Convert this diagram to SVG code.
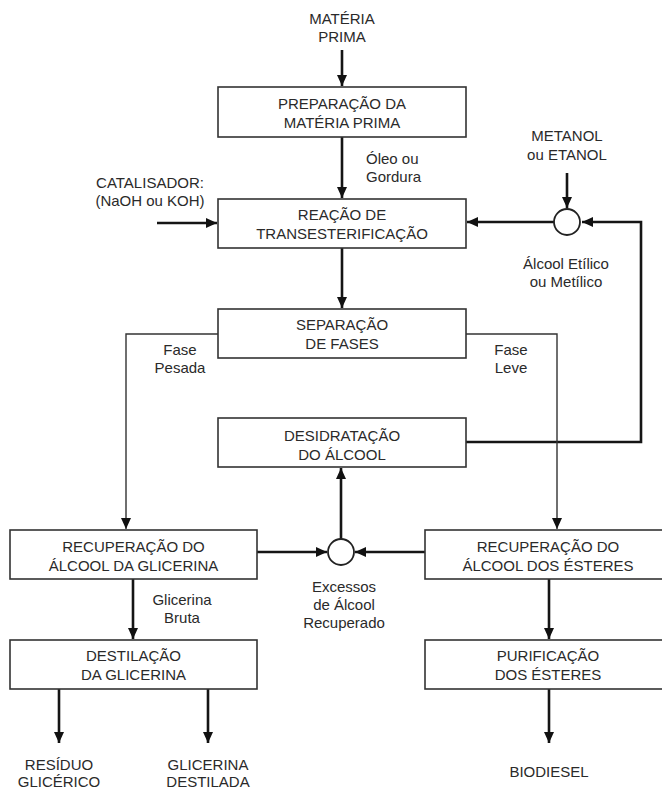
<svg xmlns="http://www.w3.org/2000/svg" width="662" height="790" viewBox="0 0 662 790">
<style>
text{font-family:"Liberation Sans",Arial,sans-serif;font-size:15px;fill:#2a2a2a;text-anchor:middle}
.box{fill:#fff;stroke:#333;stroke-width:1.6}
.thick{fill:none;stroke:#151515;stroke-width:2.6}
.thin{fill:none;stroke:#333;stroke-width:1.4}
.circ{fill:#fff;stroke:#222;stroke-width:1.8}
.st{text-anchor:start}
</style>
<defs>
<marker id="ah" markerUnits="userSpaceOnUse" markerWidth="11" markerHeight="10" refX="11" refY="5" orient="auto" viewBox="0 0 11 10">
<path d="M0,0 L11,5 L0,10 z" fill="#111"/>
</marker>
</defs>
<rect width="662" height="790" fill="#fff"/>
<g id="connectors">
<path class="thick" d="M342,50 V86" marker-end="url(#ah)"/>
<path class="thick" d="M342,137 V198" marker-end="url(#ah)"/>
<path class="thick" d="M157,223 H217" marker-end="url(#ah)"/>
<path class="thick" d="M567,173 V208" marker-end="url(#ah)"/>
<path class="thick" d="M554,222 H467" marker-end="url(#ah)"/>
<path class="thick" d="M466,442 H641 V222 H582" marker-end="url(#ah)"/>
<path class="thick" d="M342,248 V308" marker-end="url(#ah)"/>
<path class="thin" d="M218,334 H126 V529" marker-end="url(#ah)"/>
<path class="thin" d="M466,334 H557 V529" marker-end="url(#ah)"/>
<path class="thick" d="M341,539 V468" marker-end="url(#ah)"/>
<path class="thick" d="M257,552 H327" marker-end="url(#ah)"/>
<path class="thick" d="M425,552 H355" marker-end="url(#ah)"/>
<path class="thick" d="M133,579 V639" marker-end="url(#ah)"/>
<path class="thick" d="M549,579 V639" marker-end="url(#ah)"/>
<path class="thick" d="M59,689 V743" marker-end="url(#ah)"/>
<path class="thick" d="M208,689 V743" marker-end="url(#ah)"/>
<path class="thick" d="M549,689 V743" marker-end="url(#ah)"/>
</g>
<g id="materia-prima"><text x="342" y="24">MATÉRIA</text><text x="342" y="42">PRIMA</text></g>
<g id="preparacao"><rect class="box" x="218" y="87" width="248" height="50"/><text x="342" y="109">PREPARAÇÃO DA</text><text x="342" y="128">MATÉRIA PRIMA</text></g>
<g id="oleo"><text class="st" x="366" y="164">Óleo ou</text><text class="st" x="366" y="182">Gordura</text></g>
<g id="catalisador"><text x="150" y="188">CATALISADOR:</text><text x="150" y="206">(NaOH ou KOH)</text></g>
<g id="reacao"><rect class="box" x="218" y="199" width="248" height="49"/><text x="342" y="220">REAÇÃO DE</text><text x="342" y="239">TRANSESTERIFICAÇÃO</text></g>
<g id="metanol"><text x="567" y="141">METANOL</text><text x="567" y="160">ou ETANOL</text></g>
<g id="mix1"><circle class="circ" cx="567" cy="222" r="13"/></g>
<g id="alcool-etilico"><text x="566" y="269">Álcool Etílico</text><text x="566" y="287">ou Metílico</text></g>
<g id="separacao"><rect class="box" x="218" y="309" width="248" height="49"/><text x="342" y="330">SEPARAÇÃO</text><text x="342" y="349">DE FASES</text></g>
<g id="fase-pesada"><text x="180" y="355">Fase</text><text x="180" y="373">Pesada</text></g>
<g id="fase-leve"><text x="511" y="355">Fase</text><text x="511" y="373">Leve</text></g>
<g id="desidratacao"><rect class="box" x="218" y="418" width="248" height="49"/><text x="342" y="441">DESIDRATAÇÃO</text><text x="342" y="460">DO ÁLCOOL</text></g>
<g id="rec-glicerina"><rect class="box" x="10" y="530" width="247" height="49"/><text x="133.5" y="552">RECUPERAÇÃO DO</text><text x="133.5" y="571">ÁLCOOL DA GLICERINA</text></g>
<g id="mix2"><circle class="circ" cx="341" cy="552" r="13"/></g>
<g id="rec-esteres"><rect class="box" x="425" y="530" width="250" height="49"/><text x="548" y="552">RECUPERAÇÃO DO</text><text x="548" y="571">ÁLCOOL DOS ÉSTERES</text></g>
<g id="excessos"><text x="344" y="592">Excessos</text><text x="344" y="610">de Álcool</text><text x="344" y="628">Recuperado</text></g>
<g id="glicerina-bruta"><text x="182" y="605">Glicerina</text><text x="182" y="623">Bruta</text></g>
<g id="destilacao"><rect class="box" x="10" y="640" width="247" height="49"/><text x="133.5" y="661">DESTILAÇÃO</text><text x="133.5" y="680">DA GLICERINA</text></g>
<g id="purificacao"><rect class="box" x="425" y="640" width="250" height="49"/><text x="548" y="661">PURIFICAÇÃO</text><text x="548" y="680">DOS ÉSTERES</text></g>
<g id="residuo"><text x="59" y="770">RESÍDUO</text><text x="59" y="787">GLICÉRICO</text></g>
<g id="glicerina-destilada"><text x="208" y="770">GLICERINA</text><text x="208" y="787">DESTILADA</text></g>
<g id="biodiesel"><text x="549" y="777">BIODIESEL</text></g>
</svg>
